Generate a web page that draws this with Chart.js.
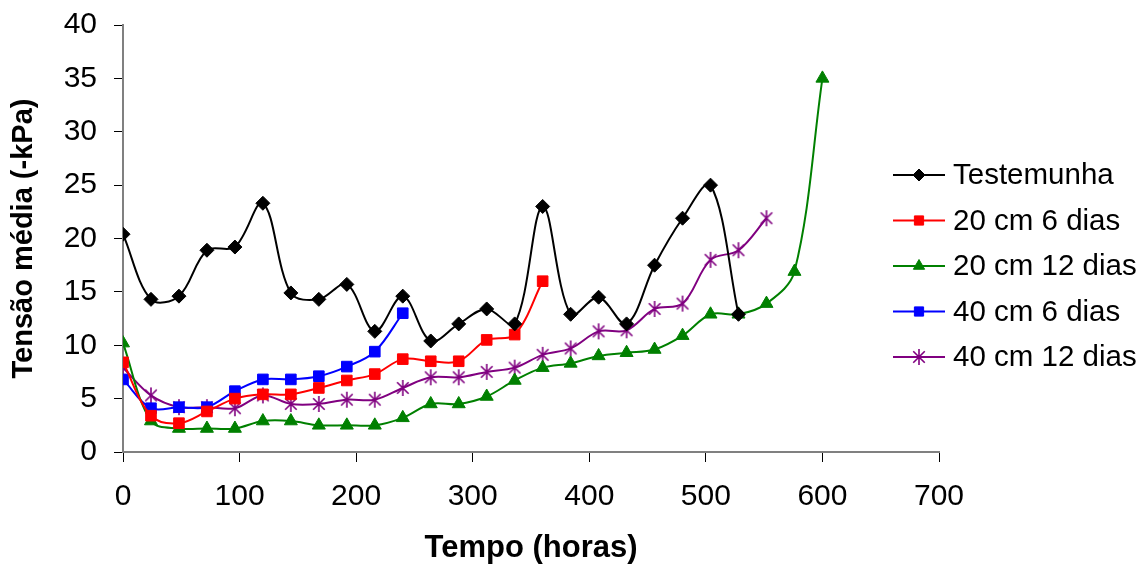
<!DOCTYPE html>
<html>
<head>
  <title>Tensão média</title>
  <script src="https://cdn.jsdelivr.net/npm/chart.js"></script>
  <style>
    body {
      margin: 0;
      background: #fff;
    }
    #chart {
      display: block;
    }
  </style>
</head>
<body>
  <canvas id="chart" width="1144" height="564"></canvas>

  <script>
    // horas de leitura (a cada 24 h)
    const hours = [0, 24, 48, 72, 96, 120, 144, 168, 192, 216, 240, 264, 288,
                   312, 336, 360, 384, 408, 432, 456, 480, 504, 528, 552, 576, 600];

    const testemunha = [20.4, 14.3, 14.6, 18.9, 19.2, 23.3, 14.9, 14.3, 15.7, 11.3, 14.6, 10.4,
                        12.0, 13.4, 12.0, 23.0, 12.9, 14.5, 12.0, 17.5, 21.9, 25.0, 12.9];
    const cm20d6 = [8.4, 3.4, 2.7, 3.8, 5.0, 5.4, 5.4, 6.0, 6.7, 7.3, 8.7, 8.5, 8.5, 10.5, 11.0, 16.0];
    const cm20d12 = [10.2, 2.9, 2.2, 2.2, 2.2, 2.9, 2.9, 2.5, 2.5, 2.5, 3.2, 4.5, 4.5, 5.2, 6.7,
                     7.9, 8.3, 9.0, 9.3, 9.6, 10.9, 12.9, 12.9, 13.9, 16.9, 35.0];
    const cm40d6 = [6.8, 4.1, 4.2, 4.2, 5.7, 6.8, 6.8, 7.1, 8.0, 9.4, 13.0];
    const cm40d12 = [7.9, 5.3, 4.2, 4.2, 4.1, 5.3, 4.5, 4.5, 4.9, 4.9, 6.0, 7.0, 7.0, 7.5, 7.9,
                     9.1, 9.7, 11.3, 11.4, 13.4, 13.9, 18.0, 18.9, 21.9];

    const labels = ['Testemunha', '20 cm 6 dias', '20 cm 12 dias', '40 cm 6 dias', '40 cm 12 dias'];

    const FONT = '"Liberation Sans", Arial, sans-serif';
    Chart.defaults.font.family = FONT;
    Chart.defaults.color = '#000';

    // asterisco (x + traço vertical) como no Excel
    function asterisk(color, r) {
      const c = document.createElement('canvas');
      c.width = c.height = 2 * r + 2;
      const g = c.getContext('2d');
      const m = r + 1;
      const d = r * 0.72;
      g.strokeStyle = color;
      g.lineWidth = 1.6;
      g.beginPath();
      g.moveTo(m, m - r); g.lineTo(m, m + r);
      g.moveTo(m - d, m - d); g.lineTo(m + d, m + d);
      g.moveTo(m + d, m - d); g.lineTo(m - d, m + d);
      g.stroke();
      return c;
    }

    function toPoints(values) {
      return values.map((v, i) => ({ x: hours[i], y: v }));
    }

    function series(label, values, color, style, radius) {
      return {
        label: label,
        data: toPoints(values),
        borderColor: color,
        backgroundColor: color,
        pointBackgroundColor: color,
        pointBorderColor: color,
        pointBorderWidth: 1,
        pointStyle: style,
        pointRadius: radius,
        borderWidth: 2,
        tension: 0.35,
        fill: false
      };
    }

    const datasets = [
      series(labels[0], testemunha, '#000000', 'rectRot', 7),
      series(labels[1], cm20d6, '#ff0000', 'rect', 7.5),
      series(labels[2], cm20d12, '#008000', 'triangle', 7.5),
      series(labels[3], cm40d6, '#0000ff', 'rect', 7.5),
      series(labels[4], cm40d12, '#800080', asterisk('#800080', 8), 8)
    ];

    // legenda à direita, linha + marcador
    const sideLegend = {
      id: 'sideLegend',
      afterDraw(chart) {
        const ctx = chart.ctx;
        ctx.save();
        chart.data.datasets.forEach((ds, i) => {
          const y = 175 + i * 45.5;
          ctx.strokeStyle = ds.borderColor;
          ctx.lineWidth = 2;
          ctx.beginPath();
          ctx.moveTo(893, y);
          ctx.lineTo(945, y);
          ctx.stroke();
          ctx.fillStyle = ds.borderColor;
          ctx.strokeStyle = ds.borderColor;
          ctx.lineWidth = 1;
          Chart.helpers.drawPoint(ctx, {
            pointStyle: ds.pointStyle,
            radius: ds.pointRadius - 1,
            rotation: 0,
            borderWidth: 1
          }, 919, y);
          ctx.fillStyle = '#000';
          ctx.font = '29.5px ' + FONT;
          ctx.textBaseline = 'middle';
          ctx.textAlign = 'left';
          ctx.fillText(ds.label, 953, y + 1);
        });
        ctx.restore();
      }
    };

    const tickFont = { size: 30 };
    const titleFont = { size: 29, weight: 'bold' };

    new Chart(document.getElementById('chart'), {
      type: 'line',
      data: { datasets: datasets },
      plugins: [sideLegend],
      options: {
        responsive: false,
        animation: false,
        layout: { padding: { top: 25, right: 205, bottom: 0, left: 0 } },
        plugins: {
          legend: { display: false },
          tooltip: { enabled: false }
        },
        scales: {
          x: {
            type: 'linear',
            min: 0,
            max: 700,
            ticks: { stepSize: 100, padding: 17, font: tickFont, color: '#000', maxRotation: 0 },
            grid: { drawOnChartArea: false, tickLength: 10, color: '#000', lineWidth: 1 },
            border: { color: '#808080', width: 2 },
            title: { display: true, text: 'Tempo (horas)', font: { size: 31, weight: 'bold' }, color: '#000', padding: { top: 0, bottom: -3 } },
            afterFit: s => { s.height = 112; s.paddingLeft = 0; s.paddingRight = 0; }
          },
          y: {
            min: 0,
            max: 40,
            ticks: { stepSize: 5, padding: 17, font: tickFont, color: '#000' },
            grid: { drawOnChartArea: false, tickLength: 9, color: '#000', lineWidth: 1 },
            border: { color: '#808080', width: 2 },
            title: { display: true, text: 'Tensão média (-kPa)', font: titleFont, color: '#000', padding: { top: 7, bottom: 0 } },
            afterFit: s => { s.width = 123; s.paddingTop = 0; s.paddingBottom = 0; }
          }
        }
      }
    });
  </script>
</body>
</html>
